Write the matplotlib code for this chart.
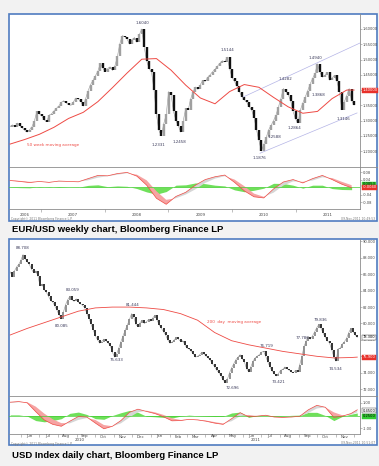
import matplotlib
matplotlib.use('Agg')
import matplotlib.pyplot as plt
import matplotlib.dates as mdates
import matplotlib.transforms as mtrans
from matplotlib.patches import Rectangle
from matplotlib.lines import Line2D
import numpy as np
import pandas as pd

# ---------------- data: EUR/USD weekly (sampled every 2 weeks) ----------------
eur_start = '2006-07-07'
eur_close = [1.280, 1.286, 1.279, 1.292, 1.283, 1.276, 1.268, 1.262, 1.270, 1.280,
             1.300, 1.330, 1.322, 1.315, 1.302, 1.296, 1.318, 1.322, 1.332, 1.340,
             1.348, 1.360, 1.365, 1.358, 1.352, 1.350, 1.362, 1.374, 1.370, 1.362,
             1.347, 1.372, 1.398, 1.418, 1.432, 1.447, 1.462, 1.487, 1.472, 1.460,
             1.470, 1.476, 1.464, 1.480, 1.510, 1.552, 1.578, 1.575, 1.566, 1.550,
             1.565, 1.572, 1.556, 1.582, 1.600, 1.540, 1.495, 1.470, 1.458, 1.400,
             1.320, 1.268, 1.250, 1.290, 1.320, 1.395, 1.385, 1.330, 1.300, 1.282,
             1.262, 1.300, 1.340, 1.335, 1.370, 1.395, 1.410, 1.402, 1.418, 1.432,
             1.428, 1.442, 1.450, 1.460, 1.468, 1.478, 1.488, 1.496, 1.492, 1.508,
             1.470, 1.440, 1.428, 1.412, 1.395, 1.378, 1.368, 1.360, 1.345, 1.335,
             1.310, 1.270, 1.235, 1.200, 1.222, 1.245, 1.270, 1.285, 1.300, 1.318,
             1.345, 1.372, 1.405, 1.395, 1.385, 1.365, 1.330, 1.305, 1.292, 1.335,
             1.358, 1.378, 1.398, 1.420, 1.438, 1.455, 1.486, 1.458, 1.442, 1.448,
             1.458, 1.432, 1.440, 1.448, 1.428, 1.395, 1.335, 1.362, 1.382, 1.405,
             1.365, 1.350]
# 50 week moving average, read every 6th bar plus the last bar
eur_ma = [1.223, 1.238, 1.255, 1.278, 1.307, 1.327, 1.362, 1.408, 1.456, 1.501,
          1.503, 1.465, 1.416, 1.374, 1.355, 1.395, 1.418, 1.409, 1.376, 1.345,
          1.324, 1.330, 1.372, 1.400, 1.400]
# MACD and signal, read every 4th bar
eur_macd = [0.035, 0.030, 0.024, 0.030, 0.025, 0.032, 0.030, 0.028, 0.045, 0.062,
            0.060, 0.072, 0.078, 0.058, 0.010, -0.060, -0.092, -0.050, -0.028, 0.010,
            0.040, 0.055, 0.064, 0.025, -0.020, -0.052, -0.058, -0.010, 0.027, 0.040,
            0.022, 0.045, 0.062, 0.040, 0.015, -0.004]
eur_signal = [0.036, 0.033, 0.028, 0.028, 0.027, 0.029, 0.030, 0.029, 0.036, 0.050,
              0.058, 0.066, 0.074, 0.066, 0.036, -0.022, -0.068, -0.060, -0.040, -0.012,
              0.022, 0.045, 0.058, 0.040, 0.005, -0.035, -0.052, -0.030, 0.008, 0.030,
              0.028, 0.035, 0.052, 0.048, 0.028, 0.010]
eur_trend_upper = [('2010-03-05', 1.377), ('2012-01-05', 1.554)]
eur_trend_lower = [('2010-06-10', 1.193), ('2011-12-19', 1.325)]
eur_labels = [('1.6040', '2008-08-02', 1.6197), ('1.5144', '2009-12-03', 1.531),
              ('1.4282', '2010-11-01', 1.436), ('1.4940', '2011-04-22', 1.505),
              ('1.3868', '2011-05-09', 1.384), ('1.3146', '2011-09-30', 1.305),
              ('1.1876', '2010-06-05', 1.177), ('1.2588', '2010-08-30', 1.246),
              ('1.2864', '2010-12-23', 1.275), ('1.2331', '2008-11-02', 1.220),
              ('1.2458', '2009-03-03', 1.230)]
eur_yticks = [1.20, 1.25, 1.30, 1.35, 1.40, 1.45, 1.50, 1.55, 1.60]
eur_macd_ticks = [0.08, 0.04, -0.04, -0.08]
eur_years = ['2006', '2007', '2008', '2009', '2010', '2011']

# ---------------- data: USD index daily (sampled twice a week) ----------------
usd_start = '2010-05-15'
usd_close = [86.3, 85.7, 86.4, 86.9, 87.2, 87.7, 88.4, 87.9, 87.5, 87.2,
             86.6, 86.2, 86.4, 85.8, 84.6, 84.8, 84.1, 83.8, 83.3, 82.8,
             82.6, 82.1, 81.6, 81.0, 80.6, 81.4, 82.3, 82.9, 83.3, 82.9,
             82.7, 83.0, 82.6, 82.4, 82.2, 81.9, 81.2, 80.6, 79.9, 79.2,
             78.5, 78.0, 77.6, 77.8, 78.1, 77.9, 77.6, 77.3, 76.5, 75.9,
             76.3, 77.0, 77.8, 78.5, 79.2, 79.8, 80.5, 81.2, 80.8, 79.9,
             79.6, 80.1, 80.4, 80.0, 80.2, 80.5, 80.3, 80.7, 81.0, 80.4,
             79.8, 79.4, 79.0, 78.6, 78.0, 77.6, 77.7, 78.0, 78.3, 78.1,
             77.8, 77.9, 77.4, 77.0, 76.9, 76.6, 76.3, 75.9, 76.0, 76.2,
             76.5, 76.3, 76.0, 75.8, 75.5, 75.1, 74.7, 74.3, 74.0, 73.6,
             73.1, 72.8, 73.2, 74.0, 74.6, 75.1, 75.6, 75.9, 76.2, 75.7,
             75.3, 74.5, 74.1, 74.7, 75.4, 75.8, 76.0, 76.2, 76.5, 76.6,
             76.0, 75.3, 74.7, 74.2, 73.9, 73.6, 73.9, 74.3, 74.4, 74.7,
             74.5, 74.3, 74.1, 74.0, 74.3, 74.1, 75.0, 76.0, 77.2, 77.9,
             78.4, 78.1, 78.5, 79.0, 79.5, 79.9, 79.4, 78.8, 78.3, 77.9,
             77.6, 76.8, 75.9, 75.4, 76.9, 77.0, 77.5, 77.8, 78.2, 78.9,
             79.4, 79.0, 78.6, 78.3]
# 200 day moving average, read every 8th bar plus the last bar
usd_ma = [78.6, 79.4, 80.1, 80.8, 81.5, 81.9, 82.0, 82.0, 81.9, 81.7,
          81.2, 80.4, 78.9, 77.9, 77.4, 77.0, 76.6, 76.3, 76.0, 75.8,
          75.85, 75.9]
# MACD and signal, read every 4th bar plus the last bar
usd_macd = [1.05, 1.10, 1.00, 0.30, -0.35, -0.70, -0.85, -0.45, -0.08, -0.12,
            -0.60, -1.05, -0.85, -0.40, 0.25, 0.50, 0.32, 0.15, -0.10, -0.42,
            -0.40, -0.30, -0.35, -0.45, -0.60, -0.70, -0.25, 0.22, -0.10, -0.05,
            0.02, -0.12, -0.15, -0.12, -0.06, 0.45, 0.80, 0.65, -0.15, -0.05,
            0.15, 0.45]
usd_signal = [1.00, 1.05, 1.05, 0.70, 0.15, -0.30, -0.60, -0.62, -0.35, -0.20,
              -0.35, -0.75, -0.85, -0.62, -0.15, 0.25, 0.38, 0.25, 0.05, -0.22,
              -0.35, -0.33, -0.33, -0.40, -0.52, -0.63, -0.45, -0.05, 0.05, -0.05,
              -0.02, -0.06, -0.12, -0.13, -0.09, 0.20, 0.55, 0.65, 0.25, 0.02,
              0.05, 0.25]
usd_labels = [('88.708', '2010-06-05', 89.2), ('83.059', '2010-08-25', 84.1),
              ('80.085', '2010-08-08', 79.7), ('81.444', '2010-12-03', 82.26),
              ('75.633', '2010-11-05', 75.55), ('72.696', '2011-05-15', 72.13),
              ('73.421', '2011-07-30', 72.87), ('76.719', '2011-07-10', 77.26),
              ('77.786', '2011-09-07', 78.23), ('79.836', '2011-10-07', 80.43),
              ('74.534', '2011-11-01', 74.45)]
usd_yticks = [72, 74, 76, 78, 80, 82, 84, 86, 88, 90]
usd_macd_ticks = [1.0, -1.0]
usd_months = ['Jun', 'Jul', 'Aug', 'Sep', 'Oct', 'Nov', 'Dec', 'Jan', 'Feb', 'Mar',
              'Apr', 'May', 'Jun', 'Jul', 'Aug', 'Sep', 'Oct', 'Nov']

# ---------------- layout helpers ----------------
W, H = 379, 466
fig = plt.figure(figsize=(W / 100, H / 100), dpi=100)
fig.patch.set_facecolor('#f2f2f2')

def fx(x):
    return x / W

def fy(y):
    return 1 - y / H

def add_ax(l, t, r, b):
    ax = fig.add_axes([l / W, 1 - b / H, (r - l) / W, (b - t) / H])
    ax.set_facecolor('none')
    ax.set_zorder(3)
    return ax

def dn(s):
    return mdates.date2num(pd.Timestamp(s).to_pydatetime())

BORDER = '#4f7cc0'
GRID = '#8c8c8c'
TXT = '#444444'
LBL = '#3a3a5a'
RED = '#ee4a44'
TICKFS = 2.6

for (t, b) in [(14, 221), (239, 445)]:
    fig.patches.append(Rectangle((fx(9), fy(b)), (377 - 9) / W, (b - t) / H,
                                 transform=fig.transFigure, facecolor='white',
                                 edgecolor=BORDER, linewidth=1.2, zorder=-5))
for y in [167, 396]:
    fig.lines.append(Line2D([fx(9), fx(377)], [fy(y), fy(y)], transform=fig.transFigure,
                            color=GRID, linewidth=0.6, zorder=-4))


def draw_bars(ax, x, close, up_color, down_color, lw):
    close = np.asarray(close, dtype=float)
    opn = np.r_[close[0], close[:-1]]
    up = close >= opn
    ax.plot(x, close, color='#9a9a9a', linewidth=0.4, zorder=1)
    ax.vlines(x[up], opn[up], close[up], colors=up_color, linewidth=lw, zorder=2)
    ax.vlines(x[~up], close[~up], opn[~up], colors=down_color, linewidth=lw, zorder=2)


def style_axes(ax, xlim, ylim, yticks, fmt, bottom=False):
    ax.set_xlim(xlim)
    ax.set_ylim(ylim)
    for s in ['left', 'top', 'bottom']:
        ax.spines[s].set_visible(False)
    if bottom:
        ax.spines['bottom'].set_visible(True)
        ax.spines['bottom'].set_color(GRID)
        ax.spines['bottom'].set_linewidth(0.6)
    ax.spines['right'].set_color(GRID)
    ax.spines['right'].set_linewidth(0.6)
    ax.yaxis.tick_right()
    ax.set_yticks(yticks)
    ax.set_yticklabels([fmt.format(v) for v in yticks])
    ax.tick_params(axis='y', labelsize=TICKFS, length=1.2, width=0.4, pad=0.8,
                   colors=GRID, labelcolor=TXT)
    ax.tick_params(axis='x', labelbottom=False, length=2, width=0.4, colors=GRID)


def axis_box(ax, val, text, fc, tc, ec):
    tr = mtrans.blended_transform_factory(ax.transAxes, ax.transData)
    ax.text(1.008, val, text, transform=tr, fontsize=TICKFS, color=tc, ha='left',
            va='center', clip_on=False,
            bbox=dict(boxstyle='square,pad=0.15', fc=fc, ec=ec, lw=0.3))


def macd_panel(ax, x, macd, signal):
    macd = np.asarray(macd)
    signal = np.asarray(signal)
    hist = macd - signal
    ax.axhline(0, color='#44cc33', linewidth=0.5)
    ax.fill_between(x, 0, hist, color='#6fe05a', linewidth=0)
    ax.fill_between(x, macd, signal, where=macd < signal, interpolate=True,
                    color='#f6a3a3', linewidth=0)
    ax.fill_between(x, macd, signal, where=macd >= signal, interpolate=True,
                    color='#d6d6d6', linewidth=0)
    ax.plot(x, macd, color=RED, linewidth=0.5)


# ================= Panel 1: EUR/USD weekly =================
eur_dates = pd.date_range(eur_start, periods=len(eur_close), freq='14D')
ex = mdates.date2num(eur_dates.to_pydatetime())
ex_ma = np.r_[ex[::6], ex[-1]]
ex_macd = ex[::4]
exlim = (dn('2006-07-01'), dn('2012-01-05'))

ax1 = add_ax(9, 14, 360, 167)
draw_bars(ax1, ex, eur_close, '#a0a0a0', '#111111', 1.7)
ax1.plot(ex_ma, eur_ma, color=RED, linewidth=0.7, zorder=3)
for seg in [eur_trend_upper, eur_trend_lower]:
    ax1.plot([dn(d) for d, _ in seg], [v for _, v in seg], color='#b4b4e6', linewidth=0.5)
for s, d, v in eur_labels:
    ax1.text(dn(d), v, s, fontsize=2.9, color=LBL, ha='center', va='center')
ax1.text(dn('2006-10-13'), 1.220, '50 week moving average', fontsize=3.0, color=RED,
         ha='left', va='center')
style_axes(ax1, exlim, (1.148, 1.649), eur_yticks, '{:.5f}')
ax1.set_xticks([])
axis_box(ax1, eur_ma[-1], '{:.5f}'.format(eur_ma[-1]), '#e8302a', 'white', '#e8302a')

ax1m = add_ax(9, 167, 360, 209)
macd_panel(ax1m, ex_macd, eur_macd, eur_signal)
style_axes(ax1m, exlim, (-0.117, 0.107), eur_macd_ticks, '{:.2f}', bottom=True)
ax1m.set_xticks([dn('{}-01-01'.format(y)) for y in range(2007, 2012)])
axis_box(ax1m, 0.015, '0.0053', '#33cc33', 'black', '#33cc33')
axis_box(ax1m, 0.0, '-0.0040', '#e8302a', 'white', '#e8302a')
tr1 = mtrans.blended_transform_factory(ax1m.transData, fig.transFigure)
for y in eur_years:
    lo = max(dn(y + '-01-01'), exlim[0])
    hi = min(dn(str(int(y) + 1) + '-01-01'), dn('2011-12-31'))
    ax1m.text((lo + hi) / 2, fy(214.5), y, transform=tr1, fontsize=2.9, color=TXT,
              ha='center', va='center', clip_on=False)
fig.text(fx(11), fy(219), 'Copyright\u00a9 2011 Bloomberg Finance L.P.', fontsize=2.2,
         color='#777777', ha='left', va='center')
fig.text(fx(375), fy(219), '09-Nov-2011 10:49:53', fontsize=2.2, color='#777777',
         ha='right', va='center')

# ================= Panel 2: USD index daily =================
usd_dates = pd.date_range(usd_start, periods=len(usd_close), freq='84h')
ux = mdates.date2num(usd_dates.to_pydatetime())
ux_ma = np.r_[ux[::8], ux[-1]]
ux_macd = np.r_[ux[::4], ux[-1]]
uxlim = (dn('2010-05-13'), dn('2011-12-11'))

ax2 = add_ax(9, 239, 360, 396)
draw_bars(ax2, ux, usd_close, '#8a8a8a', '#222222', 1.3)
ax2.plot(ux_ma, usd_ma, color=RED, linewidth=0.6, zorder=3)
for s, d, v in usd_labels:
    ax2.text(dn(d), v, s, fontsize=2.9, color=LBL, ha='center', va='center')
ax2.text(dn('2011-04-04'), 80.18, '200  day  moving average', fontsize=3.0, color=RED,
         ha='left', va='center')
style_axes(ax2, uxlim, (71.16, 90.3), usd_yticks, '{:.3f}')
ax2.set_xticks([])
axis_box(ax2, usd_close[-1], '{:.3f}'.format(usd_close[-1]), 'white', 'black', '#333333')
axis_box(ax2, usd_ma[-1], '{:.3f}'.format(usd_ma[-1]), '#e8302a', 'white', '#e8302a')

ax2m = add_ax(9, 396, 360, 434)
macd_panel(ax2m, ux_macd, usd_macd, usd_signal)
style_axes(ax2m, uxlim, (-1.46, 1.54), usd_macd_ticks, '{:.2f}', bottom=True)
month_starts = pd.date_range('2010-06-01', '2011-12-01', freq='MS')
ax2m.set_xticks(mdates.date2num(month_starts.to_pydatetime()))
axis_box(ax2m, usd_macd[-1] - 0.07, '{:.4f}'.format(usd_macd[-1]), 'white', 'black', '#333333')
axis_box(ax2m, usd_signal[-1] - 0.3, '{:.4f}'.format(usd_signal[-1]), '#33cc33', 'black', '#33cc33')
tr2 = mtrans.blended_transform_factory(ax2m.transData, fig.transFigure)
mid_months = pd.date_range('2010-06-01', periods=len(usd_months), freq='MS') + pd.Timedelta(days=14)
for m, d in zip(usd_months, mid_months):
    ax2m.text(mdates.date2num(d.to_pydatetime()), fy(436.5), m, transform=tr2,
              fontsize=2.9, color=TXT, ha='center', va='center', clip_on=False)
for y, lo, hi in [('2010', uxlim[0], dn('2011-01-01')), ('2011', dn('2011-01-01'), uxlim[1])]:
    ax2m.text((lo + hi) / 2, fy(440), y, transform=tr2, fontsize=2.9, color=TXT,
              ha='center', va='center', clip_on=False)
fig.text(fx(11), fy(443.5), 'Copyright\u00a9 2011 Bloomberg Finance L.P.', fontsize=2.2,
         color='#777777', ha='left', va='center')
fig.text(fx(375), fy(443.5), '09-Nov-2011 10:51:07', fontsize=2.2, color='#777777',
         ha='right', va='center')

# ================= Titles =================
fig.text(fx(12), fy(229.5), 'EUR/USD weekly chart, Bloomberg Finance LP',
         fontsize=6.8, fontweight='bold', family='Liberation Sans', ha='left', va='center')
fig.text(fx(12), fy(455), 'USD Index daily chart, Bloomberg Finance LP',
         fontsize=6.8, fontweight='bold', family='Liberation Sans', ha='left', va='center')

fig.savefig('out.png', dpi=100, facecolor=fig.get_facecolor())
